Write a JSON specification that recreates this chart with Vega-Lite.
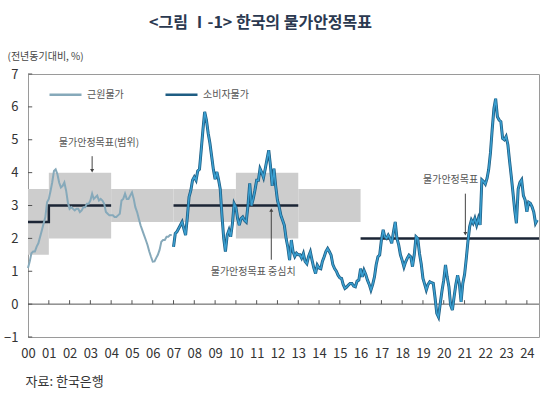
{
  "$schema": "https://vega.github.io/schema/vega-lite/v6.json",
  "width": 511,
  "height": 263,
  "autosize": "none",
  "padding": {"left": 28, "top": 74, "right": 11, "bottom": 58},
  "background": "white",
  "config": {
    "font": "Noto Sans CJK KR",
    "view": {"stroke": "#9a9a9a", "strokeWidth": 1},
    "axisY": {"labelOverlap": false},
    "legend": {
      "orient": "none", "legendX": 20, "legendY": 3, "direction": "horizontal",
      "symbolType": "stroke", "symbolSize": 1024, "symbolStrokeWidth": 2.5,
      "labelFontSize": 10, "labelColor": "#555555", "columnPadding": 36, "labelOffset": 4
    }
  },
  "title": {
    "text": "<그림 Ⅰ-1> 한국의 물가안정목표",
    "fontSize": 16, "fontWeight": "bold", "color": "#2b3950",
    "anchor": "middle", "frame": "group", "dx": -23, "offset": 4, "baseline": "bottom"
  },
  "datasets": {
    "targets": [
      {"start": "2000-01-01", "end": "2001-01-01", "lo": 1.5, "hi": 3.5},
      {"start": "2001-01-01", "end": "2004-01-01", "lo": 2, "hi": 4},
      {"start": "2004-01-01", "end": "2007-01-01", "lo": 2.5, "hi": 3.5},
      {"start": "2007-01-01", "end": "2010-01-01", "lo": 2.5, "hi": 3.5},
      {"start": "2010-01-01", "end": "2013-01-01", "lo": 2, "hi": 4},
      {"start": "2013-01-01", "end": "2016-01-01", "lo": 2.5, "hi": 3.5}
    ],
    "center": [
      {"seg": "a", "i": 1, "d": "2000-01-01", "v": 2.5},
      {"seg": "a", "i": 2, "d": "2001-01-01", "v": 2.5},
      {"seg": "a", "i": 3, "d": "2001-01-01", "v": 3},
      {"seg": "a", "i": 4, "d": "2004-01-01", "v": 3},
      {"seg": "b", "i": 1, "d": "2007-01-01", "v": 3},
      {"seg": "b", "i": 2, "d": "2013-01-01", "v": 3},
      {"seg": "c", "i": 1, "d": "2016-01-01", "v": 2},
      {"seg": "c", "i": 2, "d": "2024-08-01", "v": 2}
    ],
    "years": [
      {"d": "2001-01-01"}, {"d": "2002-01-01"}, {"d": "2003-01-01"}, {"d": "2004-01-01"},
      {"d": "2005-01-01"}, {"d": "2006-01-01"}, {"d": "2007-01-01"}, {"d": "2008-01-01"},
      {"d": "2009-01-01"}, {"d": "2010-01-01"}, {"d": "2011-01-01"}, {"d": "2012-01-01"},
      {"d": "2013-01-01"}, {"d": "2014-01-01"}, {"d": "2015-01-01"}, {"d": "2016-01-01"},
      {"d": "2017-01-01"}, {"d": "2018-01-01"}, {"d": "2019-01-01"}, {"d": "2020-01-01"},
      {"d": "2021-01-01"}, {"d": "2022-01-01"}, {"d": "2023-01-01"}, {"d": "2024-01-01"}
    ],
    "levels": [
      {"y": -1, "a": "2000-01-01", "b": "2000-03-15"}, {"y": 0, "a": "2000-01-01", "b": "2000-03-15"},
      {"y": 1, "a": "2000-01-01", "b": "2000-03-15"}, {"y": 2, "a": "2000-01-01", "b": "2000-03-15"},
      {"y": 3, "a": "2000-01-01", "b": "2000-03-15"}, {"y": 4, "a": "2000-01-01", "b": "2000-03-15"},
      {"y": 5, "a": "2000-01-01", "b": "2000-03-15"}, {"y": 6, "a": "2000-01-01", "b": "2000-03-15"},
      {"y": 7, "a": "2000-01-01", "b": "2000-03-15"}
    ],
    "core": [
      {"d":"2000-01-01","v":1.1},{"d":"2000-02-01","v":1.3},{"d":"2000-03-01","v":1.55},{"d":"2000-04-01","v":1.6},{"d":"2000-05-01","v":1.6},{"d":"2000-06-01","v":1.75},{"d":"2000-07-01","v":1.85},{"d":"2000-08-01","v":2.05},{"d":"2000-09-01","v":2.25},{"d":"2000-10-01","v":2.45},{"d":"2000-11-01","v":2.65},{"d":"2000-12-01","v":3.1},
      {"d":"2001-01-01","v":3.2},{"d":"2001-02-01","v":3.45},{"d":"2001-03-01","v":3.7},{"d":"2001-04-01","v":4.05},{"d":"2001-05-01","v":4.1},{"d":"2001-06-01","v":3.95},{"d":"2001-07-01","v":3.7},{"d":"2001-08-01","v":3.55},{"d":"2001-09-01","v":3.6},{"d":"2001-10-01","v":3.7},{"d":"2001-11-01","v":3.45},{"d":"2001-12-01","v":3.1},
      {"d":"2002-01-01","v":2.9},{"d":"2002-02-01","v":2.95},{"d":"2002-03-01","v":2.9},{"d":"2002-04-01","v":2.85},{"d":"2002-05-01","v":2.9},{"d":"2002-06-01","v":2.9},{"d":"2002-07-01","v":2.8},{"d":"2002-08-01","v":2.85},{"d":"2002-09-01","v":2.95},{"d":"2002-10-01","v":2.95},{"d":"2002-11-01","v":3.05},{"d":"2002-12-01","v":3.05},
      {"d":"2003-01-01","v":3.15},{"d":"2003-02-01","v":3.36},{"d":"2003-03-01","v":3.2},{"d":"2003-04-01","v":3.25},{"d":"2003-05-01","v":3.3},{"d":"2003-06-01","v":3.15},{"d":"2003-07-01","v":3.2},{"d":"2003-08-01","v":3.15},{"d":"2003-09-01","v":3.05},{"d":"2003-10-01","v":2.8},{"d":"2003-11-01","v":2.75},{"d":"2003-12-01","v":2.7},
      {"d":"2004-01-01","v":2.7},{"d":"2004-02-01","v":2.7},{"d":"2004-03-01","v":2.65},{"d":"2004-04-01","v":2.65},{"d":"2004-05-01","v":2.7},{"d":"2004-06-01","v":2.75},{"d":"2004-07-01","v":3.15},{"d":"2004-08-01","v":3.2},{"d":"2004-09-01","v":3.36},{"d":"2004-10-01","v":3.2},{"d":"2004-11-01","v":3.2},{"d":"2004-12-01","v":3.3},
      {"d":"2005-01-01","v":3.4},{"d":"2005-02-01","v":3.2},{"d":"2005-03-01","v":2.95},{"d":"2005-04-01","v":2.8},{"d":"2005-05-01","v":2.6},{"d":"2005-06-01","v":2.4},{"d":"2005-07-01","v":2.25},{"d":"2005-08-01","v":2.1},{"d":"2005-09-01","v":1.95},{"d":"2005-10-01","v":1.8},{"d":"2005-11-01","v":1.6},{"d":"2005-12-01","v":1.44},
      {"d":"2006-01-01","v":1.29},{"d":"2006-02-01","v":1.3},{"d":"2006-03-01","v":1.4},{"d":"2006-04-01","v":1.5},{"d":"2006-05-01","v":1.65},{"d":"2006-06-01","v":1.9},{"d":"2006-07-01","v":1.95},{"d":"2006-08-01","v":1.95},{"d":"2006-09-01","v":2.05},{"d":"2006-10-01","v":2.05},{"d":"2006-11-01","v":2.1},{"d":"2006-12-01","v":2.1}
    ],
    "cpi": [
      {"d":"2007-01-01","v":1.74},{"d":"2007-02-01","v":2.15},{"d":"2007-03-01","v":2.2},{"d":"2007-04-01","v":2.3},{"d":"2007-05-01","v":2.4},{"d":"2007-06-01","v":2.5},{"d":"2007-07-01","v":2.3},{"d":"2007-08-01","v":2.1},{"d":"2007-09-01","v":2.65},{"d":"2007-10-01","v":3.26},{"d":"2007-11-01","v":3.46},{"d":"2007-12-01","v":3.77},
      {"d":"2008-01-01","v":3.87},{"d":"2008-02-01","v":3.77},{"d":"2008-03-01","v":4.05},{"d":"2008-04-01","v":4.1},{"d":"2008-05-01","v":4.68},{"d":"2008-06-01","v":5.3},{"d":"2008-07-01","v":5.85},{"d":"2008-08-01","v":5.6},{"d":"2008-09-01","v":5.2},{"d":"2008-10-01","v":4.9},{"d":"2008-11-01","v":4.5},{"d":"2008-12-01","v":4.1},
      {"d":"2009-01-01","v":3.8},{"d":"2009-02-01","v":4.02},{"d":"2009-03-01","v":3.8},{"d":"2009-04-01","v":3.5},{"d":"2009-05-01","v":2.7},{"d":"2009-06-01","v":2.0},{"d":"2009-07-01","v":1.6},{"d":"2009-08-01","v":2.1},{"d":"2009-09-01","v":2.25},{"d":"2009-10-01","v":2.05},{"d":"2009-11-01","v":2.45},{"d":"2009-12-01","v":3.06},
      {"d":"2010-01-01","v":2.95},{"d":"2010-02-01","v":2.6},{"d":"2010-03-01","v":2.4},{"d":"2010-04-01","v":2.6},{"d":"2010-05-01","v":2.65},{"d":"2010-06-01","v":2.55},{"d":"2010-07-01","v":2.5},{"d":"2010-08-01","v":3.0},{"d":"2010-09-01","v":3.67},{"d":"2010-10-01","v":3.0},{"d":"2010-11-01","v":3.2},{"d":"2010-12-01","v":3.46},
      {"d":"2011-01-01","v":3.77},{"d":"2011-02-01","v":3.77},{"d":"2011-03-01","v":4.12},{"d":"2011-04-01","v":4.0},{"d":"2011-05-01","v":3.85},{"d":"2011-06-01","v":4.12},{"d":"2011-07-01","v":4.4},{"d":"2011-08-01","v":4.68},{"d":"2011-09-01","v":4.2},{"d":"2011-10-01","v":3.6},{"d":"2011-11-01","v":4.12},{"d":"2011-12-01","v":3.6},
      {"d":"2012-01-01","v":3.16},{"d":"2012-02-01","v":2.95},{"d":"2012-03-01","v":2.7},{"d":"2012-04-01","v":2.55},{"d":"2012-05-01","v":2.4},{"d":"2012-06-01","v":2.0},{"d":"2012-07-01","v":1.74},{"d":"2012-08-01","v":1.34},{"d":"2012-09-01","v":1.95},{"d":"2012-10-01","v":1.6},{"d":"2012-11-01","v":1.45},{"d":"2012-12-01","v":1.55},
      {"d":"2013-01-01","v":1.5},{"d":"2013-02-01","v":1.5},{"d":"2013-03-01","v":1.4},{"d":"2013-04-01","v":1.54},{"d":"2013-05-01","v":1.3},{"d":"2013-06-01","v":1.23},{"d":"2013-07-01","v":1.45},{"d":"2013-08-01","v":1.59},{"d":"2013-09-01","v":1.33},{"d":"2013-10-01","v":1.1},{"d":"2013-11-01","v":0.93},{"d":"2013-12-01","v":1.19},
      {"d":"2014-01-01","v":1.1},{"d":"2014-02-01","v":1.08},{"d":"2014-03-01","v":1.3},{"d":"2014-04-01","v":1.44},{"d":"2014-05-01","v":1.6},{"d":"2014-06-01","v":1.69},{"d":"2014-07-01","v":1.6},{"d":"2014-08-01","v":1.49},{"d":"2014-09-01","v":1.2},{"d":"2014-10-01","v":1.08},{"d":"2014-11-01","v":1.0},{"d":"2014-12-01","v":0.88},
      {"d":"2015-01-01","v":0.8},{"d":"2015-02-01","v":0.78},{"d":"2015-03-01","v":0.6},{"d":"2015-04-01","v":0.48},{"d":"2015-05-01","v":0.52},{"d":"2015-06-01","v":0.58},{"d":"2015-07-01","v":0.63},{"d":"2015-08-01","v":0.63},{"d":"2015-09-01","v":0.55},{"d":"2015-10-01","v":0.53},{"d":"2015-11-01","v":0.7},{"d":"2015-12-01","v":0.73},
      {"d":"2016-01-01","v":1.08},{"d":"2016-02-01","v":0.83},{"d":"2016-03-01","v":1.03},{"d":"2016-04-01","v":0.9},{"d":"2016-05-01","v":0.73},{"d":"2016-06-01","v":0.6},{"d":"2016-07-01","v":0.43},{"d":"2016-08-01","v":0.6},{"d":"2016-09-01","v":0.83},{"d":"2016-10-01","v":1.2},{"d":"2016-11-01","v":1.44},{"d":"2016-12-01","v":1.49},
      {"d":"2017-01-01","v":1.95},{"d":"2017-02-01","v":2.26},{"d":"2017-03-01","v":2.05},{"d":"2017-04-01","v":2.0},{"d":"2017-05-01","v":2.1},{"d":"2017-06-01","v":2.0},{"d":"2017-07-01","v":1.85},{"d":"2017-08-01","v":2.2},{"d":"2017-09-01","v":2.5},{"d":"2017-10-01","v":2.0},{"d":"2017-11-01","v":1.8},{"d":"2017-12-01","v":1.5},
      {"d":"2018-01-01","v":1.33},{"d":"2018-02-01","v":1.13},{"d":"2018-03-01","v":1.28},{"d":"2018-04-01","v":1.4},{"d":"2018-05-01","v":1.49},{"d":"2018-06-01","v":1.44},{"d":"2018-07-01","v":1.14},{"d":"2018-08-01","v":1.5},{"d":"2018-09-01","v":2.05},{"d":"2018-10-01","v":2.0},{"d":"2018-11-01","v":1.54},{"d":"2018-12-01","v":1.23},
      {"d":"2019-01-01","v":0.78},{"d":"2019-02-01","v":0.6},{"d":"2019-03-01","v":0.43},{"d":"2019-04-01","v":0.6},{"d":"2019-05-01","v":0.68},{"d":"2019-06-01","v":0.65},{"d":"2019-07-01","v":0.63},{"d":"2019-08-01","v":0.2},{"d":"2019-09-01","v":-0.28},{"d":"2019-10-01","v":-0.39},{"d":"2019-11-01","v":0.02},{"d":"2019-12-01","v":0.4},
      {"d":"2020-01-01","v":0.73},{"d":"2020-02-01","v":1.19},{"d":"2020-03-01","v":0.83},{"d":"2020-04-01","v":0.53},{"d":"2020-05-01","v":-0.03},{"d":"2020-06-01","v":-0.18},{"d":"2020-07-01","v":0.22},{"d":"2020-08-01","v":0.6},{"d":"2020-09-01","v":0.88},{"d":"2020-10-01","v":0.63},{"d":"2020-11-01","v":0.07},{"d":"2020-12-01","v":0.63},
      {"d":"2021-01-01","v":0.9},{"d":"2021-02-01","v":1.4},{"d":"2021-03-01","v":1.9},{"d":"2021-04-01","v":2.36},{"d":"2021-05-01","v":2.56},{"d":"2021-06-01","v":2.46},{"d":"2021-07-01","v":2.61},{"d":"2021-08-01","v":2.41},{"d":"2021-09-01","v":2.61},{"d":"2021-10-01","v":2.41},{"d":"2021-11-01","v":3.78},{"d":"2021-12-01","v":3.73},
      {"d":"2022-01-01","v":3.65},{"d":"2022-02-01","v":3.83},{"d":"2022-03-01","v":4.1},{"d":"2022-04-01","v":4.6},{"d":"2022-05-01","v":5.3},{"d":"2022-06-01","v":5.95},{"d":"2022-07-01","v":6.25},{"d":"2022-08-01","v":5.7},{"d":"2022-09-01","v":5.6},{"d":"2022-10-01","v":5.55},{"d":"2022-11-01","v":5.04},{"d":"2022-12-01","v":5.0},
      {"d":"2023-01-01","v":5.1},{"d":"2023-02-01","v":4.85},{"d":"2023-03-01","v":4.38},{"d":"2023-04-01","v":3.9},{"d":"2023-05-01","v":3.4},{"d":"2023-06-01","v":2.86},{"d":"2023-07-01","v":2.46},{"d":"2023-08-01","v":3.5},{"d":"2023-09-01","v":3.7},{"d":"2023-10-01","v":3.78},{"d":"2023-11-01","v":3.3},{"d":"2023-12-01","v":3.17},
      {"d":"2024-01-01","v":2.81},{"d":"2024-02-01","v":3.1},{"d":"2024-03-01","v":3.07},{"d":"2024-04-01","v":2.96},{"d":"2024-05-01","v":2.8},{"d":"2024-06-01","v":2.46},{"d":"2024-07-01","v":2.56}
    ],
    "arrows": [
      {"d": "2003-02-01", "from": 4.5, "to": 4.06, "dir": "down"},
      {"d": "2011-09-15", "from": 1.35, "to": 2.86, "dir": "up"},
      {"d": "2021-01-15", "from": 3.36, "to": 2.14, "dir": "down"}
    ],
    "notes": [
      {"d": "2003-06-01", "v": 4.9, "label": "물가안정목표(범위)"},
      {"d": "2010-11-01", "v": 0.98, "label": "물가안정목표 중심치"},
      {"d": "2020-05-01", "v": 3.77, "label": "물가안정목표"}
    ]
  },
  "layer": [
    {
      "data": {"name": "targets"},
      "mark": {"type": "rect", "color": "#cdcdcd"},
      "encoding": {
        "x": {
          "field": "start", "type": "temporal",
          "scale": {"type": "utc", "domain": [{"year": 2000, "month": 1, "date": 1, "utc": true}, {"year": 2024, "month": 8, "date": 1, "utc": true}]},
          "axis": {
            "format": "%y", "tickCount": {"interval": "year", "step": 1}, "ticks": false, "domain": false, "grid": false,
            "labelFlush": false, "labelOverlap": false, "labelPadding": 10, "labelFontSize": 13, "labelColor": "#333333",
            "title": "자료: 한국은행", "titleAnchor": "start", "titleAlign": "left", "titleBaseline": "middle",
            "titleX": -3, "titleY": 44, "titleFontSize": 13, "titleFontWeight": "normal", "titleColor": "#333333"
          }
        },
        "x2": {"field": "end"},
        "y": {
          "field": "lo", "type": "quantitative",
          "scale": {"domain": [-1, 7], "nice": false, "zero": false},
          "axis": {
            "values": [-1, 0, 1, 2, 3, 4, 5, 6, 7], "tickCount": 20, "format": "d", "grid": false, "domain": false, "ticks": false,
            "labelOverlap": false, "labelPadding": 10, "labelFontSize": 13, "labelColor": "#333333",
            "title": "(전년동기대비, %)", "titleAngle": 0, "titleAlign": "left", "titleBaseline": "middle",
            "titleX": -21, "titleY": -18, "titleFontSize": 10, "titleFontWeight": "normal", "titleColor": "#444444"
          }
        },
        "y2": {"field": "hi"}
      }
    },
    {
      "data": {"name": "center"},
      "mark": {"type": "line", "color": "#1b2535", "strokeWidth": 2.5},
      "encoding": {
        "x": {"field": "d", "type": "temporal"},
        "y": {"field": "v", "type": "quantitative"},
        "detail": {"field": "seg"},
        "order": {"field": "i"}
      }
    },
    {
      "data": {"values": [{"zero": 0}]},
      "mark": {"type": "rule", "color": "#555555", "strokeWidth": 1},
      "encoding": {"y": {"field": "zero", "type": "quantitative"}}
    },
    {
      "data": {"name": "years"},
      "mark": {"type": "rule", "color": "#555555", "strokeWidth": 1},
      "encoding": {
        "x": {"field": "d", "type": "temporal"},
        "y": {"datum": 0},
        "y2": {"datum": 0.12}
      }
    },
    {
      "data": {"name": "levels"},
      "mark": {"type": "rule", "color": "#555555", "strokeWidth": 1},
      "encoding": {
        "y": {"field": "y", "type": "quantitative"},
        "x": {"field": "a", "type": "temporal"},
        "x2": {"field": "b"}
      }
    },
    {
      "data": {"name": "core"},
      "mark": {"type": "line", "strokeWidth": 2},
      "encoding": {
        "x": {"field": "d", "type": "temporal"},
        "y": {"field": "v", "type": "quantitative"},
        "color": {"datum": "근원물가", "scale": {"domain": ["근원물가", "소비자물가"], "range": ["#86a9ba", "#1e5d83"]}, "legend": {"title": null}}
      }
    },
    {
      "data": {"name": "cpi"},
      "mark": {"type": "line", "strokeWidth": 3},
      "encoding": {
        "x": {"field": "d", "type": "temporal"},
        "y": {"field": "v", "type": "quantitative"},
        "color": {"datum": "소비자물가"}
      }
    },
    {
      "data": {"name": "cpi"},
      "mark": {"type": "line", "strokeWidth": 1.5, "color": "#3a9fd0"},
      "encoding": {
        "x": {"field": "d", "type": "temporal"},
        "y": {"field": "v", "type": "quantitative"}
      }
    },
    {
      "data": {"name": "arrows"},
      "mark": {"type": "rule", "color": "#444444", "strokeWidth": 1},
      "encoding": {
        "x": {"field": "d", "type": "temporal"},
        "y": {"field": "from", "type": "quantitative"},
        "y2": {"field": "to"}
      }
    },
    {
      "data": {"name": "arrows"},
      "mark": {"type": "point", "filled": true, "size": 16, "color": "#444444", "opacity": 1},
      "encoding": {
        "x": {"field": "d", "type": "temporal"},
        "y": {"field": "to", "type": "quantitative"},
        "shape": {"field": "dir", "type": "nominal", "scale": {"domain": ["down", "up"], "range": ["triangle-down", "triangle-up"]}, "legend": null}
      }
    },
    {
      "data": {"name": "notes"},
      "mark": {"type": "text", "fontSize": 10, "color": "#555555", "align": "center", "baseline": "middle"},
      "encoding": {
        "x": {"field": "d", "type": "temporal"},
        "y": {"field": "v", "type": "quantitative"},
        "text": {"field": "label"}
      }
    }
  ]
}
